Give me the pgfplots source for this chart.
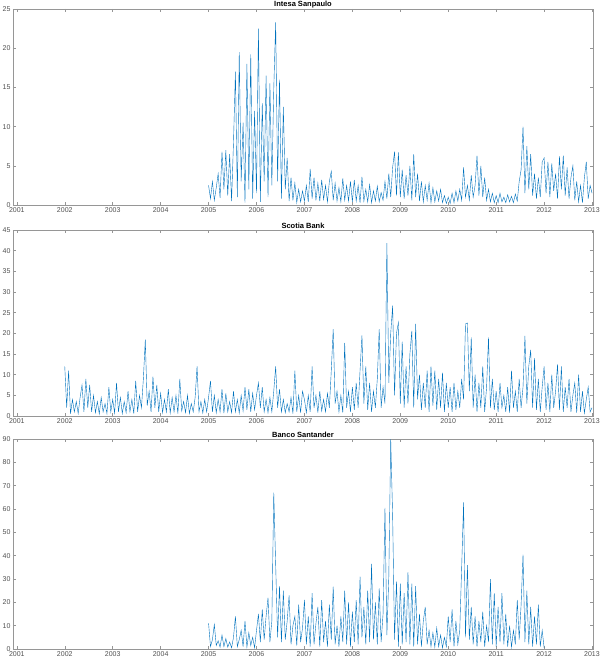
\documentclass[border=0pt]{standalone}
\usepackage{pgfplots}
\pgfplotsset{compat=1.18}
\usepackage{fontspec}
\setmainfont{Liberation Sans}
\definecolor{mblue}{RGB}{0,114,189}
\definecolor{axgray}{RGB}{150,150,150}
\definecolor{lblgray}{RGB}{80,80,80}
\pgfplotsset{
  mstyle/.style={
    scale only axis, anchor=south west,
    width=580pt,
    xmin=2000.92, xmax=2013.02, ymin=0,
    xtick={2001,...,2013},
    /pgf/number format/1000 sep={},
    /pgf/number format/assume math mode=true,
    tick align=inside, major tick length=3pt,
    axis line style={axgray, line width=0.5pt},
    tick style={axgray, line width=0.5pt},
    ticklabel style={font=\fontsize{7}{8}\selectfont, text=lblgray},
    xticklabel style={yshift=1pt},
    yticklabel style={xshift=1pt},
    every axis title shift=0pt,
    title style={at={(0.5,1)}, anchor=base, yshift=2pt, font=\fontsize{7.5}{8}\selectfont\bfseries},
    cycle list={{mblue, line width=0.6pt, no markers, line join=round}},
  }
}
\begin{document}
\begin{tikzpicture}
\useasboundingbox (0,0) rectangle (602pt,-671pt);
% ---------- Intesa Sanpaulo
\begin{axis}[mstyle, at={(13pt,-205pt)}, height=196pt, ymax=25, ytick={0,5,...,25},
  title={Intesa Sanpaulo}]
\addplot table[header=false, row sep=\\, x expr=2005+\coordindex*0.04, y index=0] {
2.5\\0.8\\3.0\\0.6\\2.2\\4.0\\0.9\\6.8\\2.0\\7.0\\1.2\\6.5\\0.5\\8.0\\17.0\\1.0\\19.5\\3.0\\10.5\\0.3\\18.0\\2.0\\19.2\\0.8\\12.0\\
1.5\\22.5\\0.4\\13.0\\3.0\\16.5\\1.0\\15.5\\2.5\\14.8\\23.3\\3.0\\16.0\\0.8\\12.5\\2.0\\6.0\\0.5\\3.5\\0.6\\2.8\\0.3\\2.0\\0.4\\1.8\\
0.5\\2.5\\0.4\\4.6\\0.8\\3.5\\0.6\\2.8\\0.5\\3.2\\0.7\\2.5\\0.4\\3.0\\4.3\\0.6\\2.8\\0.5\\2.2\\0.4\\3.4\\0.6\\2.5\\0.5\\3.0\\
0.4\\3.2\\0.5\\2.5\\0.3\\3.6\\0.5\\2.0\\0.4\\2.6\\0.3\\1.8\\0.5\\2.4\\0.4\\1.6\\0.6\\3.0\\0.8\\4.0\\1.0\\4.8\\6.8\\1.2\\6.7\\
1.0\\4.5\\0.8\\3.8\\1.2\\5.0\\0.6\\6.5\\1.0\\4.0\\0.5\\3.0\\0.4\\2.5\\0.6\\2.8\\0.3\\2.2\\0.4\\1.8\\0.5\\2.0\\0.3\\1.2\\0.2\\
1.0\\0.2\\1.5\\0.3\\1.8\\0.5\\2.0\\0.6\\4.8\\1.0\\2.5\\0.6\\3.8\\1.0\\2.5\\6.3\\1.2\\5.0\\1.0\\3.5\\0.6\\2.0\\0.4\\1.5\\0.3\\
1.2\\0.3\\1.5\\0.4\\1.0\\0.3\\1.3\\0.4\\1.1\\0.3\\1.4\\0.5\\3.0\\4.5\\10.0\\1.5\\7.5\\2.0\\6.5\\1.2\\4.0\\0.8\\3.5\\1.0\\5.5\\
6.0\\1.5\\5.5\\1.0\\5.3\\1.8\\4.0\\0.8\\6.2\\2.0\\6.3\\1.2\\4.8\\0.8\\3.5\\5.0\\0.6\\3.0\\0.4\\2.5\\0.3\\3.5\\5.5\\0.8\\2.5\\
1.5\\
};
\end{axis}
% ---------- Scotia Bank
\begin{axis}[mstyle, at={(13pt,-416pt)}, height=186pt, ymax=45, ytick={0,5,...,45},
  title={Scotia Bank}]
\addplot table[header=false, row sep=\\, x expr=2002+\coordindex*0.04, y index=0] {
12.0\\2.0\\11.0\\0.5\\4.0\\1.0\\3.5\\0.6\\4.5\\7.5\\1.0\\9.0\\2.0\\7.5\\1.0\\5.0\\0.8\\3.5\\0.5\\4.5\\1.0\\3.0\\0.6\\7.0\\1.0\\
4.0\\0.7\\8.0\\1.0\\4.5\\0.6\\3.5\\0.8\\6.0\\1.0\\4.0\\0.6\\8.5\\1.0\\5.0\\2.0\\9.0\\18.5\\2.5\\6.0\\1.0\\9.5\\2.0\\7.5\\1.0\\
5.5\\0.8\\4.0\\1.0\\6.5\\0.7\\4.5\\1.0\\5.0\\0.6\\9.0\\1.2\\3.5\\0.8\\5.0\\0.6\\3.0\\1.0\\4.5\\12.0\\1.0\\3.5\\0.7\\4.0\\1.0\\
4.5\\8.5\\1.0\\5.0\\0.8\\4.0\\1.0\\6.5\\0.7\\5.5\\1.0\\3.5\\0.8\\6.0\\1.0\\4.0\\0.7\\5.0\\1.2\\7.0\\1.5\\6.5\\1.0\\5.5\\1.5\\
5.0\\8.0\\2.0\\7.0\\1.0\\4.0\\0.8\\4.5\\1.0\\6.0\\12.0\\2.0\\6.5\\1.0\\4.0\\0.8\\3.0\\1.0\\4.5\\0.6\\11.0\\1.0\\5.0\\0.8\\6.0\\
4.0\\0.8\\5.0\\1.0\\12.0\\2.0\\5.0\\0.8\\6.0\\1.2\\4.0\\1.0\\5.5\\2.0\\11.0\\21.0\\3.0\\6.0\\1.0\\5.0\\0.8\\17.7\\2.0\\6.0\\1.0\\
7.0\\1.5\\8.0\\2.0\\11.0\\19.5\\3.0\\12.0\\1.5\\8.0\\1.0\\6.0\\2.0\\9.0\\21.0\\2.0\\7.0\\3.0\\41.8\\8.0\\20.0\\26.7\\5.0\\20.0\\22.6\\
3.0\\18.0\\2.0\\12.0\\3.0\\15.0\\20.6\\2.0\\22.3\\4.0\\10.0\\1.5\\8.0\\2.0\\11.0\\1.0\\12.0\\2.5\\11.0\\1.5\\9.0\\2.0\\10.5\\1.0\\8.0\\
2.0\\7.0\\1.0\\8.0\\1.5\\6.0\\2.0\\9.0\\4.0\\22.3\\22.5\\6.0\\19.0\\2.0\\10.0\\1.0\\8.0\\2.0\\12.0\\1.0\\7.0\\19.0\\2.0\\9.0\\1.5\\
6.0\\1.0\\8.0\\2.0\\5.0\\1.0\\7.0\\0.8\\11.0\\2.0\\6.0\\1.0\\9.0\\2.0\\7.0\\19.4\\3.0\\12.0\\16.0\\2.0\\14.0\\1.5\\9.0\\1.0\\7.0\\
12.0\\1.5\\8.0\\1.0\\10.0\\2.0\\6.0\\12.5\\1.5\\12.0\\1.0\\7.0\\2.0\\9.0\\1.0\\5.0\\8.0\\0.8\\10.0\\1.0\\6.0\\0.7\\4.0\\7.0\\1.0\\
2.0\\
};
\end{axis}
% ---------- Banco Santander
\begin{axis}[mstyle, at={(13pt,-649pt)}, height=210pt, ymax=90, ytick={0,10,...,90},
  title={Banco Santander}]
\addplot table[header=false, row sep=\\, x expr=2005+\coordindex*0.04, y index=0] {
11.0\\1.0\\4.0\\10.5\\1.5\\3.5\\0.8\\6.0\\1.0\\4.5\\0.8\\3.0\\0.5\\5.0\\14.0\\1.0\\4.0\\8.0\\1.0\\12.0\\0.8\\7.0\\1.5\\5.0\\0.5\\
8.0\\15.0\\3.0\\17.0\\4.0\\14.0\\22.0\\3.0\\12.0\\67.0\\36.0\\5.0\\27.0\\3.0\\25.0\\4.0\\12.0\\23.0\\2.0\\10.0\\14.0\\1.5\\19.0\\3.0\\9.0\\
21.0\\2.0\\14.0\\1.0\\24.0\\2.0\\11.0\\18.0\\1.0\\21.0\\3.0\\12.0\\1.0\\19.0\\4.0\\26.7\\2.0\\10.0\\1.0\\14.0\\3.0\\25.0\\2.0\\20.0\\1.0\\
16.0\\3.0\\21.0\\2.0\\31.0\\5.0\\18.0\\2.0\\25.0\\3.0\\36.5\\4.0\\20.0\\2.0\\26.0\\3.0\\15.0\\60.5\\6.0\\31.0\\90.0\\57.0\\4.0\\29.0\\1.0\\
28.0\\2.0\\24.0\\3.0\\33.0\\2.0\\28.0\\1.0\\27.0\\2.0\\15.0\\1.0\\12.0\\18.0\\2.0\\8.0\\1.0\\7.0\\0.8\\9.0\\1.0\\6.0\\0.5\\5.0\\1.0\\
14.0\\3.0\\17.0\\1.0\\12.0\\2.0\\8.0\\35.0\\62.8\\5.0\\36.0\\4.0\\18.0\\2.0\\14.0\\1.0\\12.0\\3.0\\16.0\\1.0\\10.0\\3.0\\30.0\\2.0\\24.0\\
1.0\\18.0\\3.0\\24.0\\2.0\\15.0\\1.0\\10.0\\0.8\\8.0\\2.0\\21.0\\4.0\\19.0\\40.5\\3.0\\25.0\\2.0\\18.0\\1.0\\14.0\\2.0\\19.0\\1.0\\8.0\\
0.5\\
};
\end{axis}
\end{tikzpicture}
\end{document}
